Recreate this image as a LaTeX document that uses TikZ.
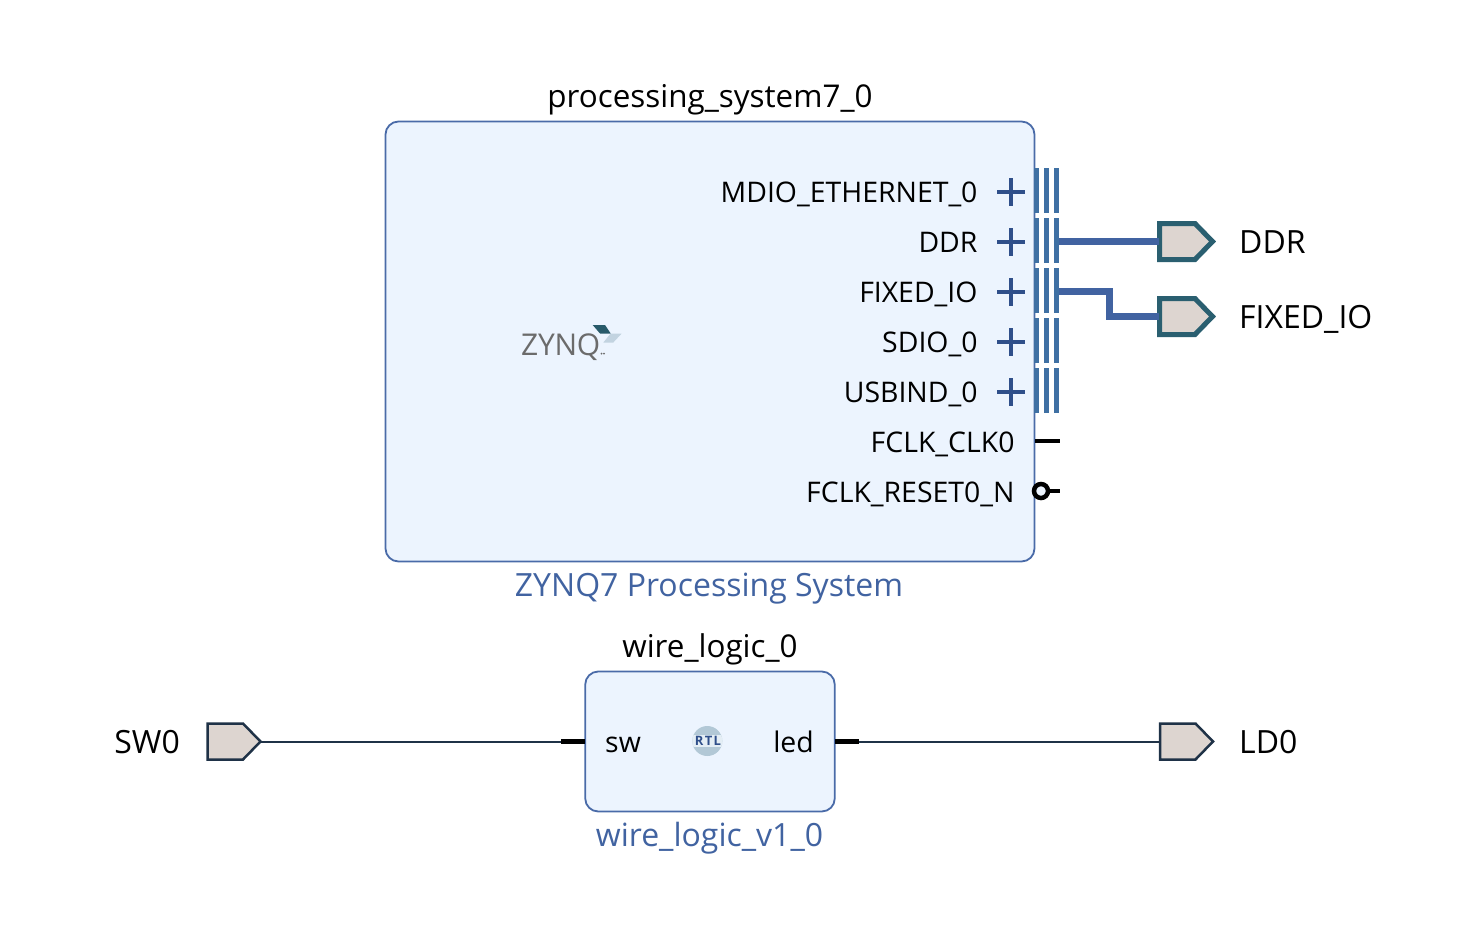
\documentclass[tikz,border=0pt]{standalone}
\usepackage{fontspec}
\setmainfont{Open Sans}
\definecolor{blockfill}{HTML}{ECF4FE}
\definecolor{blockline}{HTML}{4A6BA8}
\definecolor{ipblue}{HTML}{4163A1}
\definecolor{stripe}{HTML}{3F70A3}
\definecolor{plusc}{HTML}{2F4F8A}
\definecolor{portfill}{HTML}{DDD5D0}
\definecolor{portbus}{HTML}{2A5F70}
\definecolor{portnet}{HTML}{1F3247}
\definecolor{rtlc}{HTML}{B2C8D6}
\definecolor{rtlband}{HTML}{E4EEF5}
\definecolor{logolight}{HTML}{C2D3E0}
\newcommand{\lbl}{\fontsize{32}{36}\selectfont}
\newcommand{\pinlbl}{\fontsize{28.4}{32}\selectfont}
\newcommand{\buspin}[3]{%
  \fill[stripe] (1034,#1-24) rectangle (1039,#1+21);
  \fill[stripe] (1044,#1-24) rectangle (1049,#1+21);
  \fill[stripe] (1054,#1-24) rectangle (1059,#1+21);
  \draw[plusstyle] (997,#1) -- (1025,#1);
  \draw[plusstyle] (1011,#1-14) -- (1011,#1+14);
  \node[pintext] (#3) at (977.7,#1+10) {#2};
}
\newcommand{\portshape}[3]{% x, y, style
  \draw[#3] (#1,#2-18) -- (#1+35.5,#2-18) -- (#1+53,#2) -- (#1+35.5,#2+18) -- (#1,#2+18) -- cycle;
}
\tikzset{
  x=1pt,y=-1pt,
  block/.style={draw=blockline,fill=blockfill,line width=1.8pt,rounded corners=13pt,inner sep=0pt},
  title/.style={font=\fontsize{31.4}{36}\selectfont,text=black,anchor=base,inner sep=0pt},
  subtitle/.style={font=\lbl,text=ipblue,anchor=base,inner sep=0pt},
  pintext/.style={font=\pinlbl,text=black,anchor=base east,inner sep=0pt},
  portname/.style={font=\lbl,text=black,anchor=base west,inner sep=0pt},
  plusstyle/.style={draw=plusc,line width=4pt},
  buswire/.style={draw=ipblue,line width=7pt},
  netwire/.style={draw=portnet,line width=2pt},
  stub/.style={draw=black,line width=5pt},
  busport/.style={draw=portbus,fill=portfill,line width=5pt,line join=miter},
  netport/.style={draw=portnet,fill=portfill,line width=2.5pt,line join=miter},
}
\begin{document}
\begin{tikzpicture}
\useasboundingbox (0,0) rectangle (1460,935);
% blocks
\node[block,minimum width=649pt,minimum height=440pt] (ps) at (710,341.5) {};
\node[block,minimum width=249.5pt,minimum height=140pt] (wl) at (710,741.5) {};
\node[title] (pstitle) at (710,107) {processing\_system7\_0};
\node[subtitle] (pssub) at (709,596) {ZYNQ7 Processing System};
\node[title] (wltitle) at (710,657) {wire\_logic\_0};
\node[subtitle] (wlsub) at (709.5,846) {wire\_logic\_v1\_0};
% bus pins
\buspin{192}{MDIO\_ETHERNET\_0}{pa}
\buspin{242}{DDR}{pb}
\buspin{292}{FIXED\_IO}{pc}
\buspin{342}{SDIO\_0}{pd}
\buspin{392}{USBIND\_0}{pe}
\node[pintext] (pf) at (1014.7,452) {FCLK\_CLK0};
\node[pintext] (pg) at (1014.7,502) {FCLK\_RESET0\_N};
\draw[draw=black,line width=4.5pt] (1035,441) -- (1060,441);
\draw[draw=black,line width=4pt] (1048,491) -- (1060,491);
\draw[draw=black,fill=blockfill,line width=4.5pt] (1041,491) circle (7pt);
% logo
\node[font=\fontsize{30}{30}\selectfont\addfontfeatures{LetterSpace=-1},text=black!58,anchor=base west,inner sep=0pt] (zynq) at (521,355) {ZYNQ};
\fill[fill=black!58] (601.5,353.5) circle (1pt);
\fill[fill=black!58] (604,353.5) circle (1pt);
\fill[fill=portbus!95!black] (592.7,325) -- (605,325) -- (610.7,333.5) -- (600,333.5) -- cycle;
\fill[fill=logolight] (610.7,333.5) -- (621.7,333.5) -- (613.3,342.5) -- (603.3,342.5) -- cycle;
% RTL logo
\begin{scope}
\clip (707.3,741) circle (15pt);
\fill[fill=rtlc] (690,720) rectangle (725,760);
\fill[fill=rtlband] (690,734.5) rectangle (725,746.5);
\end{scope}
\node[font=\bfseries\fontsize{13}{13}\selectfont\addfontfeatures{LetterSpace=10},text=plusc,inner sep=0pt] (rtl) at (708,740.5) {RTL};
% pins of wire_logic
\node[font=\pinlbl,text=black,anchor=base west,inner sep=0pt] (swt) at (605,752) {sw};
\node[pintext] (ledt) at (814,752) {led};
% external ports
\portshape{1159.5}{241.5}{busport}
\portshape{1159.5}{316.5}{busport}
\portshape{207.5}{741.5}{netport}
\portshape{1160}{741.5}{netport}
\coordinate (ddrin) at (1159,241.5);
\coordinate (fixin) at (1159,316.5);
\coordinate (ddrout) at (1059,241.5);
\coordinate (fixout) at (1059,291.5);
\coordinate (swout) at (261,741.5);
\coordinate (swpin) at (561,741.5);
\coordinate (swedge) at (585,741.5);
\coordinate (ledpin) at (859,741.5);
\coordinate (ledge) at (835,741.5);
\coordinate (ldin) at (1160,741.5);
% wires
\draw[buswire] (ddrout) -- (ddrin);
\draw[buswire] (fixout) -| (1109.5,316.5) -- (fixin);
\draw[netwire] (swout) -- (swpin);
\draw[netwire] (ledpin) -- (ldin);
\draw[stub] (swpin) -- (swedge);
\draw[stub] (ledge) -- (ledpin);
% port names
\node[portname] (ddrn) at (1239,253) {DDR};
\node[portname] (fixn) at (1239,328) {FIXED\_IO};
\node[portname] (ldn) at (1239,753) {LD0};
\node[font=\lbl,text=black,anchor=base east,inner sep=0pt] (swn) at (180,753) {SW0};
\end{tikzpicture}
\end{document}
